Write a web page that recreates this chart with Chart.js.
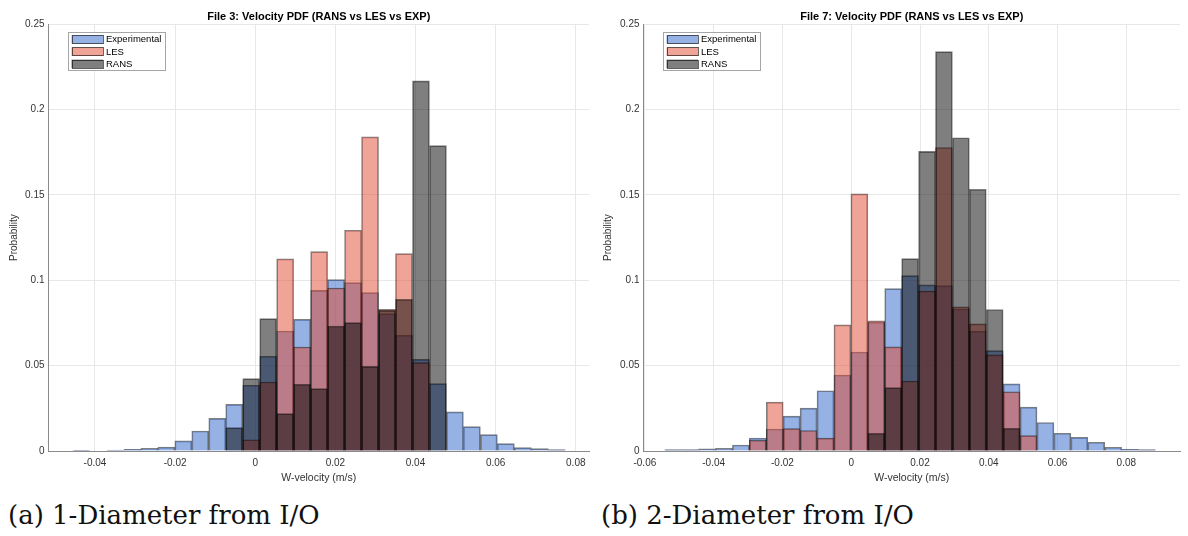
<!DOCTYPE html>
<html>
<head>
<meta charset="utf-8">
<script src="https://cdn.jsdelivr.net/npm/chart.js@4"></script>
<style>
  html, body { margin: 0; padding: 0; background: #fff; }
  #wrap { position: relative; width: 1188px; height: 536px; overflow: hidden; }
  canvas { position: absolute; top: 0; }
  .cap { position: absolute; top: 500px; font-family: "DejaVu Serif", serif; font-size: 26px; color: #111; white-space: nowrap; }
</style>
</head>
<body>
<div id="wrap">
  <canvas id="c1" width="594" height="490" style="left:0"></canvas>
  <canvas id="c2" width="594" height="490" style="left:594px"></canvas>
  <div class="cap" style="left:8px">(a) 1-Diameter from I/O</div>
  <div class="cap" style="left:601px">(b) 2-Diameter from I/O</div>
</div>
<script>
// ---------- Data ----------
const seriesNames = ["Experimental", "LES", "RANS"];

// File 3 (1-Diameter): bin centres (m/s)
const binsFile3 = [-0.04338, -0.03914, -0.03491, -0.03067, -0.02643, -0.02220, -0.01796, -0.01372, -0.00948, -0.00525,
  -0.00101, 0.00323, 0.00746, 0.01170, 0.01594, 0.02018, 0.02441, 0.02865, 0.03289, 0.03712,
  0.04136, 0.04560, 0.04983, 0.05407, 0.05831, 0.06255, 0.06678, 0.07102, 0.07526];
const expFile3 = [0.0002, null, 0.0006, 0.0010, 0.0016, 0.0023, 0.0059, 0.0117, 0.0191, 0.0273,
  0.0385, 0.0555, 0.0703, 0.0771, 0.0941, 0.1004, 0.0986, 0.0928, 0.0805, 0.0678,
  0.0537, 0.0395, 0.0229, 0.0143, 0.0096, 0.0043, 0.0020, 0.0014, 0.0008];
const lesFile3 = [null, null, null, null, null, null, null, null, null, null,
  0.0066, 0.0404, 0.1125, 0.0609, 0.1168, 0.0955, 0.1293, 0.1840, 0.0830, 0.1156,
  0.0518, null, null, null, null, null, null, null, null];
const ransFile3 = [null, null, null, null, null, null, null, null, null, 0.0137,
  0.0424, 0.0775, 0.0219, 0.0391, 0.0365, 0.0732, 0.0752, 0.0496, 0.0824, 0.0889,
  0.2168, 0.1789, null, null, null, null, null, null, null];

// File 7 (2-Diameter): bin centres (m/s)
const binsFile7 = [-0.05176, -0.04684, -0.04192, -0.03700, -0.03208, -0.02716, -0.02224, -0.01732, -0.01240, -0.00748,
  -0.00256, 0.00236, 0.00728, 0.01220, 0.01712, 0.02204, 0.02696, 0.03188, 0.03680, 0.04172,
  0.04664, 0.05156, 0.05648, 0.06140, 0.06632, 0.07124, 0.07616, 0.08108, 0.08600];
const expFile7 = [0.0008, 0.0008, 0.0012, 0.0016, 0.0035, 0.0075, 0.0129, 0.0204, 0.0251, 0.0353,
  0.0445, 0.0580, 0.0755, 0.0951, 0.1027, 0.0973, 0.0969, 0.0833, 0.0702, 0.0588,
  0.0393, 0.0257, 0.0167, 0.0104, 0.0080, 0.0051, 0.0022, 0.0010, 0.0008];
const lesFile7 = [null, null, null, null, null, 0.0063, 0.0286, 0.0131, 0.0120, 0.0075,
  0.0739, 0.1506, 0.0763, 0.0610, 0.0410, 0.0937, 0.1778, 0.0845, 0.0745, 0.0563,
  0.0347, 0.0090, null, null, null, null, null, null, null];
const ransFile7 = [null, null, null, null, null, null, null, null, null, null,
  null, null, 0.0104, 0.0371, 0.1127, 0.1755, 0.2339, 0.1835, 0.1533, 0.0829,
  0.0133, null, null, null, null, null, null, null, null];

// Tick values
const yTicks = [0, 0.05, 0.1, 0.15, 0.2, 0.25];
const xTicksFile3 = [-0.04, -0.02, 0, 0.02, 0.04, 0.06, 0.08];
const xTicksFile7 = [-0.06, -0.04, -0.02, 0, 0.02, 0.04, 0.06, 0.08];

// ---------- Styling ----------
const FONT = "'Liberation Sans', Arial, Helvetica, sans-serif";
const colors = {
  Experimental: 'rgba(45, 99, 201, 0.5)',
  LES: 'rgba(225, 71, 47, 0.5)',
  RANS: 'rgba(0, 0, 0, 0.5)'
};
const edge = 'rgba(0, 0, 0, 0.5)';

const fmt = v => String(Number(Number(v).toFixed(2)));

const boxLegend = {
  id: 'boxLegend',
  afterDraw(chart) {
    const ctx = chart.ctx, a = chart.chartArea;
    const x0 = a.left + 19.5, y0 = a.top + 8, w = 96.5, h = 38;
    ctx.save();
    ctx.fillStyle = '#fff';
    ctx.fillRect(x0, y0, w, h);
    ctx.strokeStyle = '#a6a6a6';
    ctx.lineWidth = 1;
    ctx.strokeRect(Math.round(x0) + 0.5, Math.round(y0) + 0.5, Math.round(w), Math.round(h));
    ctx.font = "9.5px " + FONT;
    ctx.textBaseline = 'middle';
    ctx.textAlign = 'left';
    chart.data.datasets.forEach((ds, i) => {
      const sy = y0 + 3 + i * 12.2;
      ctx.fillStyle = ds.backgroundColor;
      ctx.fillRect(x0 + 3.5, sy, 31.5, 8.5);
      ctx.strokeStyle = 'rgba(0,0,0,0.6)';
      ctx.strokeRect(Math.round(x0 + 3.5) + 0.5, Math.round(sy) + 0.5, 31, 8);
      ctx.fillStyle = '#000';
      ctx.fillText(ds.label, x0 + 38, sy + 4.6);
    });
    ctx.restore();
  }
};

function makeChart(id, title, bins, exp, les, rans, xTicks, xmin, xmax, yWidth, padRight) {
  const series = [exp, les, rans];
  const datasets = seriesNames.map((name, i) => ({
    label: name,
    data: series[i],
    backgroundColor: colors[name],
    borderColor: edge,
    borderWidth: 1,
    borderSkipped: 'start',
    order: 3 - i,
    grouped: false,
    barPercentage: 1,
    categoryPercentage: 1
  }));
  return new Chart(document.getElementById(id), {
    type: 'bar',
    data: { labels: bins, datasets },
    plugins: [boxLegend],
    options: {
      responsive: false,
      animation: false,
      devicePixelRatio: 1,
      layout: { padding: { left: 0, right: padRight, top: 0, bottom: 0 } },
      plugins: {
        legend: { display: false },
        tooltip: { enabled: false },
        title: {
          display: true, text: title, color: '#000', fullSize: false,
          font: { family: FONT, size: 11, weight: 'bold' },
          padding: { top: 10, bottom: 1 }
        }
      },
      scales: {
        x: {
          type: 'linear', min: xmin, max: xmax, offset: false,
          grid: { offset: false, color: '#e8e8e8', drawTicks: false },
          border: { color: '#8a8a8a', width: 1 },
          afterBuildTicks: s => { s.ticks = xTicks.map(v => ({ value: v })); },
          afterFit: s => { s.height = 39; },
          ticks: { autoSkip: false, maxRotation: 0, padding: 6, color: '#333',
                   font: { family: FONT, size: 10 }, callback: v => fmt(v) },
          title: { display: true, text: 'W-velocity (m/s)', color: '#333',
                   font: { family: FONT, size: 10.5 }, padding: { top: 0, bottom: 5.5 } }
        },
        y: {
          min: 0, max: 0.25,
          grid: { color: '#e8e8e8', drawTicks: false },
          border: { color: '#8a8a8a', width: 1 },
          afterBuildTicks: s => { s.ticks = yTicks.map(v => ({ value: v })); },
          afterFit: s => { s.width = yWidth; },
          ticks: { padding: 4, color: '#333', font: { family: FONT, size: 10 }, callback: v => fmt(v) },
          title: { display: true, text: 'Probability', color: '#333',
                   font: { family: FONT, size: 10 }, padding: { top: 8, bottom: 0 } }
        }
      }
    }
  });
}

makeChart('c1', 'File 3: Velocity PDF (RANS vs LES vs EXP)', binsFile3, expFile3, lesFile3, ransFile3,
          xTicksFile3, -0.0516, 0.0833, 48.5, 5);
makeChart('c2', 'File 7: Velocity PDF (RANS vs LES vs EXP)', binsFile7, expFile7, lesFile7, ransFile7,
          xTicksFile7, -0.0604, 0.0956, 49.5, 8);
</script>
</body>
</html>
